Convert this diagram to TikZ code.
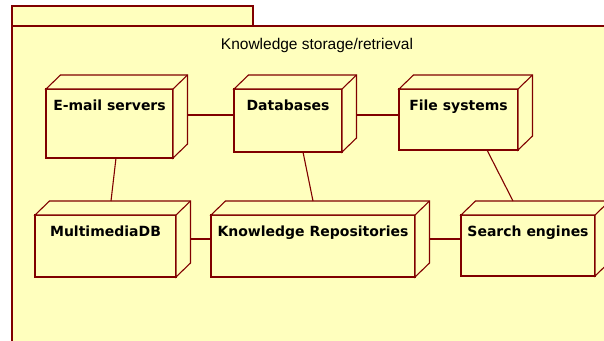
\documentclass[tikz,border=0pt]{standalone}
\usepackage{fontspec}
\newfontfamily\labfont{DejaVu Sans}
\newfontfamily\ttlfont{Liberation Sans}
\definecolor{nodefill}{RGB}{255,255,190}
\definecolor{nodeline}{RGB}{128,0,0}
\tikzset{
  unode/.style={draw=nodeline, fill=nodefill, line width=1.1pt, rectangle, outer sep=0pt,
    inner sep=0pt, anchor=north west, text height=21.5pt,
    font=\labfont\bfseries\fontsize{14}{16}\selectfont},
  conn/.style={draw=nodeline, line width=1.1pt},
  pkg/.style={draw=nodeline, fill=nodefill, line width=1.1pt}
}
\newcommand{\nodedepth}[1]{%
  \draw[pkg, line join=miter] (#1.north west) -- ++(14.5,-14) -- ([shift={(14.5,-14)}]#1.north east)
    -- ([shift={(14.5,-14)}]#1.south east) -- (#1.south east) -- (#1.north east) -- cycle;
  \draw[conn] (#1.north east) -- ++(14.5,-14);}
\begin{document}
\begin{tikzpicture}[x=1pt,y=-1pt]
\useasboundingbox (0,0) rectangle (604,340);
\clip (0,0) rectangle (604,340);
\fill[white] (0,0) rectangle (604,340);
% package
\draw[pkg] (12,6) rectangle (253,26);
\draw[pkg] (12,26) rectangle (640,380);
\node[anchor=base, font=\ttlfont\fontsize{15.5}{18}\selectfont] (title) at (317,49.3) {Knowledge storage/retrieval};
% nodes
\node[unode, minimum width=127pt, minimum height=69pt, text depth=47.5pt] (em) at (46,89) {E-mail servers};
\nodedepth{em}
\node[unode, minimum width=108pt, minimum height=63pt, text depth=41.5pt] (db) at (234,89) {Databases};
\nodedepth{db}
\node[unode, minimum width=119pt, minimum height=61pt, text depth=39.5pt] (fs) at (399,89) {File systems};
\nodedepth{fs}
\node[unode, minimum width=141pt, minimum height=62pt, text depth=40.5pt] (mm) at (35,215) {MultimediaDB};
\nodedepth{mm}
\node[unode, minimum width=204pt, minimum height=62pt, text depth=40.5pt] (kr) at (211,215) {Knowledge Repositories};
\nodedepth{kr}
\node[unode, minimum width=134pt, minimum height=61pt, text depth=39.5pt] (se) at (461,215) {Search engines};
\nodedepth{se}
% connectors
\draw[conn] (em.north east) ++(14.5,26) coordinate (c1) -- (c1 -| db.west);
\draw[conn] (db.north east) ++(14.5,26) coordinate (c2) -- (c2 -| fs.west);
\draw[conn] ([xshift=6.5]em.south) -- ([shift={(5.5,-14)}]mm.north);
\draw[conn] ([xshift=15]db.south) -- ([shift={(0,-14)}]kr.north);
\draw[conn] ([xshift=28.5]fs.south) -- ([shift={(-15,-14)}]se.north);
\draw[conn] ([shift={(14.5,-7)}]mm.east) coordinate (c3) -- (c3 -| kr.west);
\draw[conn] ([shift={(14.5,-7)}]kr.east) coordinate (c4) -- (c4 -| se.west);
\end{tikzpicture}
\end{document}
